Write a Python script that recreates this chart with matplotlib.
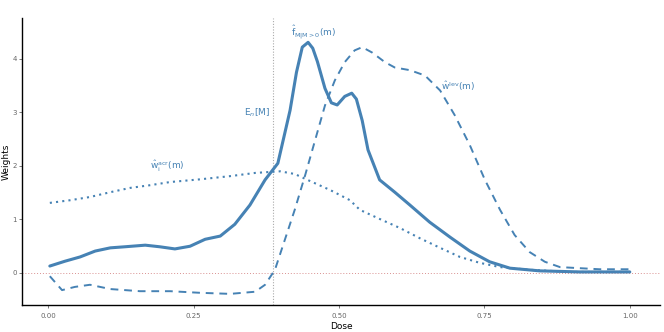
import matplotlib
matplotlib.use("Agg")
import matplotlib.pyplot as plt

dose_f = [0.003, 0.029, 0.055, 0.081, 0.107, 0.132, 0.167, 0.192, 0.218, 0.244, 0.270, 0.296,
          0.321, 0.347, 0.373, 0.395, 0.416, 0.427, 0.437, 0.447, 0.455, 0.463, 0.476, 0.487,
          0.497, 0.510, 0.522, 0.530, 0.540, 0.550, 0.570, 0.596, 0.622, 0.656, 0.691, 0.725,
          0.759, 0.794, 0.845, 0.914, 1.0]
w_f = [0.13, 0.22, 0.30, 0.41, 0.47, 0.49, 0.52, 0.49, 0.45, 0.50, 0.63, 0.69,
       0.91, 1.27, 1.74, 2.05, 3.04, 3.75, 4.22, 4.31, 4.20, 3.95, 3.45, 3.18,
       3.14, 3.30, 3.36, 3.25, 2.85, 2.30, 1.74, 1.51, 1.27, 0.95, 0.67, 0.41,
       0.21, 0.09, 0.04, 0.02, 0.02]

dose_lev = [0.003, 0.024, 0.046, 0.072, 0.107, 0.158, 0.210, 0.261, 0.313, 0.356, 0.373, 0.390,
            0.407, 0.424, 0.442, 0.459, 0.476, 0.493, 0.510, 0.527, 0.540, 0.557, 0.579, 0.596,
            0.622, 0.648, 0.674, 0.699, 0.725, 0.751, 0.777, 0.802, 0.828, 0.854, 0.880, 0.914,
            0.948, 1.0]
w_lev = [-0.06, -0.32, -0.26, -0.22, -0.30, -0.34, -0.34, -0.37, -0.39, -0.35, -0.22, 0.06,
         0.62, 1.18, 1.83, 2.48, 3.13, 3.60, 3.94, 4.16, 4.22, 4.12, 3.94, 3.84,
         3.79, 3.69, 3.41, 2.95, 2.39, 1.74, 1.18, 0.71, 0.39, 0.21, 0.11, 0.09,
         0.07, 0.07]

dose_acr = [0.003, 0.038, 0.072, 0.107, 0.141, 0.175, 0.210, 0.261, 0.313, 0.356, 0.399, 0.424,
            0.450, 0.485, 0.519, 0.536, 0.570, 0.605, 0.639, 0.674, 0.708, 0.742, 0.777, 0.828,
            0.897, 1.0]
w_acr = [1.31, 1.36, 1.42, 1.51, 1.59, 1.64, 1.70, 1.75, 1.81, 1.87, 1.90, 1.85,
         1.72, 1.55, 1.36, 1.18, 1.01, 0.84, 0.65, 0.47, 0.30, 0.19, 0.11, 0.06,
         0.02, 0.02]

mean_dose = 0.387
x_ticks = [0.0, 0.25, 0.5, 0.75, 1.0]
x_ticklabels = ["0.00", "0.25", "0.50", "0.75", "1.00"]
y_ticks = [0, 1, 2, 3, 4]

col = "#4682B4"
fig = plt.figure(figsize=(6.64, 3.32), dpi=100)
ax = fig.add_axes([0.033, 0.081, 0.961, 0.864])

ax.axhline(0, color="#d99090", linestyle=(0, (1, 2)), linewidth=0.7, zorder=1)
ax.axvline(mean_dose, color="#aaaaaa", linestyle=(0, (1, 1.5)), linewidth=0.8, zorder=1)

ax.plot(dose_f, w_f, color=col, linewidth=2.2, solid_capstyle="round", solid_joinstyle="round")
ax.plot(dose_lev, w_lev, color=col, linewidth=1.4, linestyle=(0, (4, 3)))
ax.plot(dose_acr, w_acr, color=col, linewidth=1.5, linestyle=(0, (1, 2)))

ax.text(mean_dose - 0.005, 3.0, r"E$_n$[M]", color=col, fontsize=6.5, ha="right", va="center")
ax.text(0.418, 4.5, r"$\hat{\mathrm{f}}_{\mathrm{M|M>0}}\mathrm{(m)}$", color=col, fontsize=6.5,
        ha="left", va="center")
ax.text(0.175, 1.99, r"$\hat{\mathrm{w}}_\mathrm{i}^\mathrm{acr}\mathrm{(m)}$", color=col, fontsize=6.5,
        ha="left", va="center")
ax.text(0.676, 3.5, r"$\hat{\mathrm{w}}^\mathrm{lev}\mathrm{(m)}$", color=col, fontsize=6.5,
        ha="left", va="center")

ax.set_xlim(-0.045, 1.052)
ax.set_ylim(-0.6, 4.76)
ax.set_xticks(x_ticks)
ax.set_xticklabels(x_ticklabels)
ax.set_yticks(y_ticks)
ax.tick_params(labelsize=5, colors="#666666", length=2, width=0.6)
ax.tick_params(axis="y", pad=1.5)
for s in ["top", "right"]:
    ax.spines[s].set_visible(False)
for s in ["left", "bottom"]:
    ax.spines[s].set_color("black")
    ax.spines[s].set_linewidth(1.0)
ax.set_xlabel("Dose", fontsize=6.5, labelpad=2)
ax.set_ylabel("Weights", fontsize=6.5)
ax.yaxis.set_label_coords(-0.018, 0.5)

fig.savefig("out.png", dpi=100)
